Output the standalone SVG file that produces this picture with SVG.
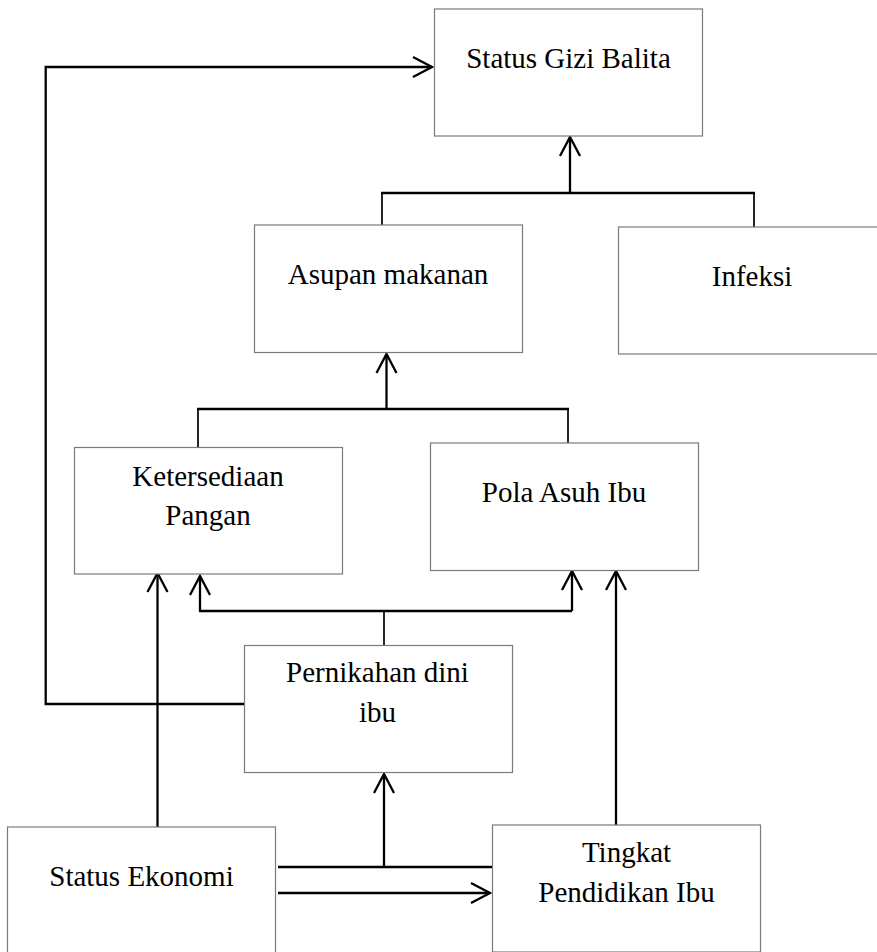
<svg xmlns="http://www.w3.org/2000/svg" width="877" height="952" viewBox="0 0 877 952">
<style>
.box{fill:#fff;stroke:#7a7a7a;stroke-width:1.2}
.t{font-family:"Liberation Serif","Times New Roman",serif;font-size:29px;fill:#000;text-anchor:middle}
.c{fill:none;stroke:#000;stroke-width:2.3}
.d{fill:none;stroke:#000;stroke-width:1.7}
</style>
<defs>
<marker id="ah" markerUnits="userSpaceOnUse" markerWidth="26" markerHeight="26" viewBox="-23 -13 26 26" refX="0" refY="0" orient="auto" overflow="visible">
<path d="M-19,-10 L0,0 L-19,10" fill="none" stroke="#000" stroke-width="2.3"/>
</marker>
</defs>
<rect width="877" height="952" fill="#fff"/>
<g id="connectors">
<path class="c" d="M244,704 H45.7 V67 H432" marker-end="url(#ah)"/>
<path class="c" d="M381,193 H755"/>
<path class="d" d="M382,193 V225 M754,193 V227"/>
<path class="c" d="M570,193 V137" marker-end="url(#ah)"/>
<path class="c" d="M197,409 H569"/>
<path class="d" d="M198,409 V447 M568,409 V443"/>
<path class="c" d="M386.5,409 V354" marker-end="url(#ah)"/>
<path class="d" d="M384,646 V611"/>
<path class="c" d="M199,611 H572"/>
<path class="c" d="M200,611 V576" marker-end="url(#ah)"/>
<path class="c" d="M572,611 V571" marker-end="url(#ah)"/>
<path class="c" d="M157.5,827 V573" marker-end="url(#ah)"/>
<path class="c" d="M616,830 V571" marker-end="url(#ah)"/>
<path class="c" d="M278,867 H492"/>
<path class="c" d="M384,867 V774" marker-end="url(#ah)"/>
<path class="c" d="M278,893 H490" marker-end="url(#ah)"/>
</g>
<g id="status-gizi"><rect class="box" x="434.5" y="9" width="268" height="127"/><text class="t" x="568.5" y="68">Status Gizi Balita</text></g>
<g id="asupan"><rect class="box" x="254.5" y="225" width="268" height="127.5"/><text class="t" x="388" y="284">Asupan makanan</text></g>
<g id="infeksi"><rect class="box" x="618.5" y="227" width="268" height="127"/><text class="t" x="752" y="286">Infeksi</text></g>
<g id="ketersediaan"><rect class="box" x="74.5" y="447.5" width="268" height="126.5"/><text class="t" x="208" y="485.5">Ketersediaan</text><text class="t" x="208" y="525">Pangan</text></g>
<g id="pola-asuh"><rect class="box" x="430.5" y="443" width="268" height="127.5"/><text class="t" x="564" y="501.5">Pola Asuh Ibu</text></g>
<g id="pernikahan"><rect class="box" x="244.5" y="645.5" width="268" height="127"/><text class="t" x="377.5" y="682">Pernikahan dini</text><text class="t" x="377.5" y="721.5">ibu</text></g>
<g id="ekonomi"><rect class="box" x="7.5" y="827" width="268" height="127"/><text class="t" x="141.5" y="886">Status Ekonomi</text></g>
<g id="tingkat"><rect class="box" x="492.5" y="825" width="268" height="127"/><text class="t" x="626.5" y="861.5">Tingkat</text><text class="t" x="626.5" y="901.5">Pendidikan Ibu</text></g>
</svg>
